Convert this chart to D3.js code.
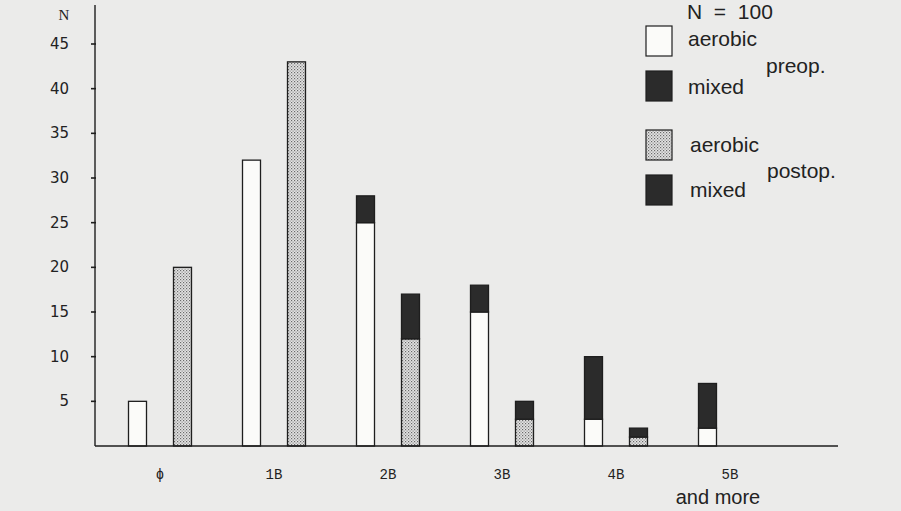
<!DOCTYPE html>
<html>
<head>
<meta charset="utf-8">
<script src="https://cdn.jsdelivr.net/npm/d3@7"></script>
<style>
  body { margin: 0; background: #ebebea; }
  svg { display: block; }
</style>
</head>
<body>
<svg></svg>
<script>
var categories = ["\u03d5", "1B", "2B", "3B", "4B", "5B"];
var preopAerobic = [5, 32, 25, 15, 3, 2];
var preopMixed = [0, 0, 3, 3, 7, 5];
var postopAerobic = [20, 43, 12, 3, 1, 0];
var postopMixed = [0, 0, 5, 2, 1, 0];
var yTicks = [5, 10, 15, 20, 25, 30, 35, 40, 45];

var svg = d3.select("svg"),
    width = 901,
    height = 511;

svg.attr("width", width).attr("height", height);

// dotted fill for the postop aerobic bars
var defs = svg.append("defs");
var pat = defs.append("pattern")
    .attr("id", "dots")
    .attr("width", 3).attr("height", 3)
    .attr("patternUnits", "userSpaceOnUse");
pat.append("rect").attr("width", 3).attr("height", 3).attr("fill", "#e4e4e4");
pat.append("rect").attr("x", 0).attr("y", 0).attr("width", 1.2).attr("height", 1.2).attr("fill", "#6a6a6a");
pat.append("rect").attr("x", 1.5).attr("y", 1.5).attr("width", 1.2).attr("height", 1.2).attr("fill", "#8a8a8a");

var axisX = 95, baseY = 446;

var x = d3.scaleBand().domain(categories).range([103, 787]);
var x1 = d3.scaleBand().domain(["preop", "postop"])
    .range([x.bandwidth() / 2 - 31.5, x.bandwidth() / 2 + 31.5])
    .paddingInner(0.6);
var y = d3.scaleLinear().domain([0, 45]).range([baseY, 44]);

var fills = { aerobic: "#fbfbf9", mixed: "#2b2b2b" };

function series(aer, mix) {
    var rows = categories.map((c, i) => ({ cat: c, aerobic: aer[i], mixed: mix[i] }));
    return d3.stack().keys(["aerobic", "mixed"])(rows);
}

var groups = [
    { period: "preop", stack: series(preopAerobic, preopMixed), aerFill: fills.aerobic },
    { period: "postop", stack: series(postopAerobic, postopMixed), aerFill: "url(#dots)" }
];

var g = svg.append("g");

groups.forEach(function(grp) {
    grp.stack.forEach(function(layer) {
        g.selectAll(null)
            .data(layer.filter(d => d[1] > d[0]))
            .join("rect")
            .attr("x", d => x(d.data.cat) + x1(grp.period))
            .attr("width", x1.bandwidth())
            .attr("y", d => y(d[1]))
            .attr("height", d => y(d[0]) - y(d[1]))
            .attr("fill", layer.key === "aerobic" ? grp.aerFill : fills.mixed)
            .attr("stroke", "#1e1e1e")
            .attr("stroke-width", 1.3);
    });
});

// axes
svg.append("line")
    .attr("x1", axisX).attr("x2", axisX)
    .attr("y1", 5).attr("y2", baseY)
    .attr("stroke", "#1e1e1e").attr("stroke-width", 1.4);
svg.append("line")
    .attr("x1", axisX).attr("x2", 838)
    .attr("y1", baseY).attr("y2", baseY)
    .attr("stroke", "#1e1e1e").attr("stroke-width", 1.4);

svg.selectAll(".tick")
    .data(yTicks)
    .join("line")
    .attr("x1", axisX - 4).attr("x2", axisX + 1)
    .attr("y1", d => y(d)).attr("y2", d => y(d))
    .attr("stroke", "#1e1e1e").attr("stroke-width", 1.6);

svg.selectAll(".ylab")
    .data(yTicks)
    .join("text")
    .attr("x", 69).attr("y", d => y(d) + 5)
    .attr("text-anchor", "end")
    .attr("font-family", "DejaVu Sans")
    .attr("font-size", 15)
    .attr("fill", "#222")
    .text(d => d);

svg.append("text")
    .attr("x", 64).attr("y", 20)
    .attr("text-anchor", "middle")
    .attr("font-family", "Liberation Serif")
    .attr("font-size", 15)
    .attr("fill", "#222")
    .text("N");

svg.selectAll(".xlab")
    .data(categories)
    .join("text")
    .attr("x", d => x(d) + x.bandwidth() / 2)
    .attr("y", 479)
    .attr("text-anchor", "middle")
    .attr("font-family", "Liberation Mono")
    .attr("font-size", 14)
    .attr("fill", "#222")
    .text(d => d);

svg.append("text")
    .attr("x", 718).attr("y", 504)
    .attr("text-anchor", "middle")
    .attr("font-family", "Liberation Sans")
    .attr("font-size", 20)
    .attr("fill", "#222")
    .text("and more");

// legend
var legend = svg.append("g").attr("font-family", "Liberation Sans").attr("font-size", 21).attr("fill", "#222");
legend.append("text").attr("x", 687).attr("y", 19)
    .style("white-space", "pre")
    .text("N  =  100");

var legendItems = [
    { label: "aerobic", fill: fills.aerobic, top: 26 },
    { label: "mixed", fill: fills.mixed, top: 71 },
    { label: "aerobic", fill: "url(#dots)", top: 130 },
    { label: "mixed", fill: fills.mixed, top: 175 }
];
legendItems.forEach(function(d, i) {
    legend.append("rect")
        .attr("x", 646).attr("y", d.top)
        .attr("width", 26).attr("height", 30)
        .attr("fill", d.fill)
        .attr("stroke", "#1e1e1e").attr("stroke-width", 1.2);
    legend.append("text")
        .attr("x", i < 2 ? 688 : 690)
        .attr("y", [46, 94, 152, 197][i])
        .text(d.label);
});
legend.append("text").attr("x", 766).attr("y", 73).text("preop.");
legend.append("text").attr("x", 767).attr("y", 178).text("postop.");
</script>
</body>
</html>
